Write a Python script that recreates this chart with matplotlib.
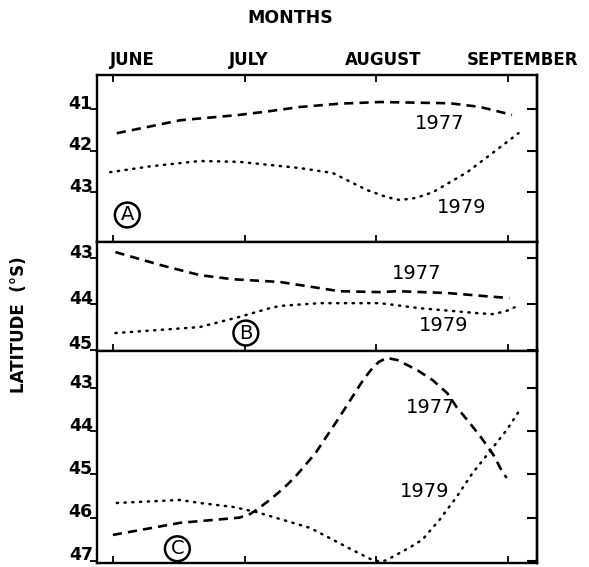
import matplotlib.pyplot as plt
import matplotlib.transforms as mtransforms

# x is month index: 0 = June, 1 = July, 2 = August, 3 = September
months = ["JUNE", "JULY", "AUGUST", "SEPTEMBER"]
month_shift = [0.15, 0.03, 0.05, 0.11]

a77_x = [0.03, 0.28, 0.51, 0.96, 1.19, 1.42, 1.72, 2.03, 2.56, 2.79, 3.03]
a77_y = [41.58, 41.42, 41.27, 41.14, 41.05, 40.95, 40.87, 40.83, 40.86, 40.95, 41.14]
a79_x = [-0.02, 0.28, 0.66, 0.96, 1.42, 1.67, 1.93, 2.08, 2.18, 2.30, 2.43, 2.69, 2.84, 3.08]
a79_y = [42.52, 42.38, 42.25, 42.27, 42.42, 42.54, 42.95, 43.12, 43.19, 43.14, 43.00, 42.52, 42.16, 41.58]

b77_x = [0.02, 0.36, 0.66, 0.91, 1.27, 1.72, 2.03, 2.16, 2.54, 3.01]
b77_y = [42.87, 43.15, 43.37, 43.46, 43.52, 43.72, 43.74, 43.72, 43.76, 43.87]
b79_x = [0.02, 0.66, 0.96, 1.19, 1.27, 1.57, 2.03, 2.33, 2.78, 2.89, 3.01, 3.05]
b79_y = [44.63, 44.50, 44.28, 44.09, 44.04, 43.98, 43.98, 44.09, 44.20, 44.22, 44.13, 44.07]

c77_x = [0.0, 0.51, 0.96, 1.04, 1.10, 1.17, 1.25, 1.33, 1.40, 1.47, 1.54, 1.60, 1.66, 1.72, 1.79,
	1.85, 1.91, 1.97, 2.02, 2.08, 2.16, 2.31, 2.43, 2.54, 2.61, 2.71, 2.80, 2.89, 2.95, 2.99]
c77_y = [46.40, 46.12, 46.00, 45.92, 45.80, 45.64, 45.44, 45.22, 45.00, 44.75, 44.50, 44.22, 43.95, 43.67, 43.34,
	43.05, 42.77, 42.54, 42.39, 42.30, 42.35, 42.58, 42.82, 43.12, 43.44, 43.81, 44.16, 44.55, 44.90, 45.08]
c79_x = [0.03, 0.51, 0.66, 0.91, 1.09, 1.29, 1.50, 1.67, 1.82, 1.97, 2.04, 2.08, 2.26, 2.35,
	2.48, 2.61, 2.73, 2.84, 2.99, 3.08]
c79_y = [45.66, 45.59, 45.66, 45.75, 45.87, 46.05, 46.24, 46.51, 46.75, 46.98, 47.02, 46.98, 46.68, 46.51,
	46.05, 45.52, 44.97, 44.55, 43.97, 43.55]

panels = [
	dict(pos=[0.1647, 0.5732, 0.747, 0.2945], ylim=(44.2, 40.18), yt=[41, 42, 43],
		l77=(a77_x, a77_y), l79=(a79_x, a79_y),
		t77=(2.48, 41.34), t79=(2.65, 43.36), letter="A", lpos=(0.11, 43.55)),
	dict(pos=[0.1647, 0.381, 0.747, 0.1922], ylim=(45.02, 42.65), yt=[43, 44, 45],
		l77=(b77_x, b77_y), l79=(b79_x, b79_y),
		t77=(2.31, 43.33), t79=(2.51, 44.46), letter="B", lpos=(1.01, 44.63)),
	dict(pos=[0.1647, 0.00705, 0.747, 0.3739], ylim=(47.05, 42.14), yt=[43, 44, 45, 46, 47],
		l77=(c77_x, c77_y), l79=(c79_x, c79_y),
		t77=(2.41, 43.46), t79=(2.37, 45.4), letter="C", lpos=(0.49, 46.72)),
]

fig = plt.figure(figsize=(5.89, 5.67), dpi=100)

for i, p in enumerate(panels):
	ax = fig.add_axes(p["pos"])
	ax.plot(*p["l77"], color="black", lw=1.9, linestyle=(0, (3.5, 2.3)))
	ax.plot(*p["l79"], color="black", lw=1.8, linestyle=(0, (0.5, 2.6)), dash_capstyle="round")
	ax.set_xlim(-0.12, 3.22)
	ax.set_ylim(*p["ylim"])
	ax.set_yticks(p["yt"])
	ax.tick_params(axis="y", left=True, right=False, direction="out", length=5, width=1.3,
		labelleft=False)
	# tick labels sit a little above their ticks, as in the hand-lettered original
	lab_tr = mtransforms.offset_copy(ax.get_yaxis_transform(), fig=fig, x=-3, y=4, units="points")
	for v in p["yt"]:
		ax.text(0, v, str(v), transform=lab_tr, fontsize=12.5, fontweight="bold",
			ha="right", va="center")
	ax.set_xticks(range(4))
	ax.tick_params(axis="x", bottom=True, top=(i == 0), direction="in", length=5, width=1.3,
		labelbottom=False)
	for s in ax.spines.values():
		s.set_linewidth(1.7)

	# right side ticks point inward
	sec = ax.secondary_yaxis("right")
	sec.set_yticks(p["yt"])
	sec.tick_params(axis="y", direction="in", length=7, width=1.5, labelright=False)
	sec.spines["right"].set_linewidth(1.7)

	if i == 0:
		for k, m in enumerate(months):
			ax.text(k + month_shift[k], 1.09, m, transform=ax.get_xaxis_transform(),
				fontsize=12, fontweight="bold", ha="center", va="center")
	ax.text(*p["t77"], "1977", fontsize=14, ha="center", va="center")
	ax.text(*p["t79"], "1979", fontsize=14, ha="center", va="center")
	ax.text(*p["lpos"], p["letter"], fontsize=14, ha="center", va="center",
		bbox=dict(boxstyle="circle,pad=0.15", fc="white", ec="black", lw=1.8))

fig.text(0.493, 0.968, "MONTHS", fontsize=12.5, fontweight="bold", ha="center", va="center")
fig.text(0.032, 0.427, "LATITUDE  (°S)", fontsize=12, fontweight="bold",
	rotation=90, ha="center", va="center")

plt.savefig("out.png", dpi=100)
